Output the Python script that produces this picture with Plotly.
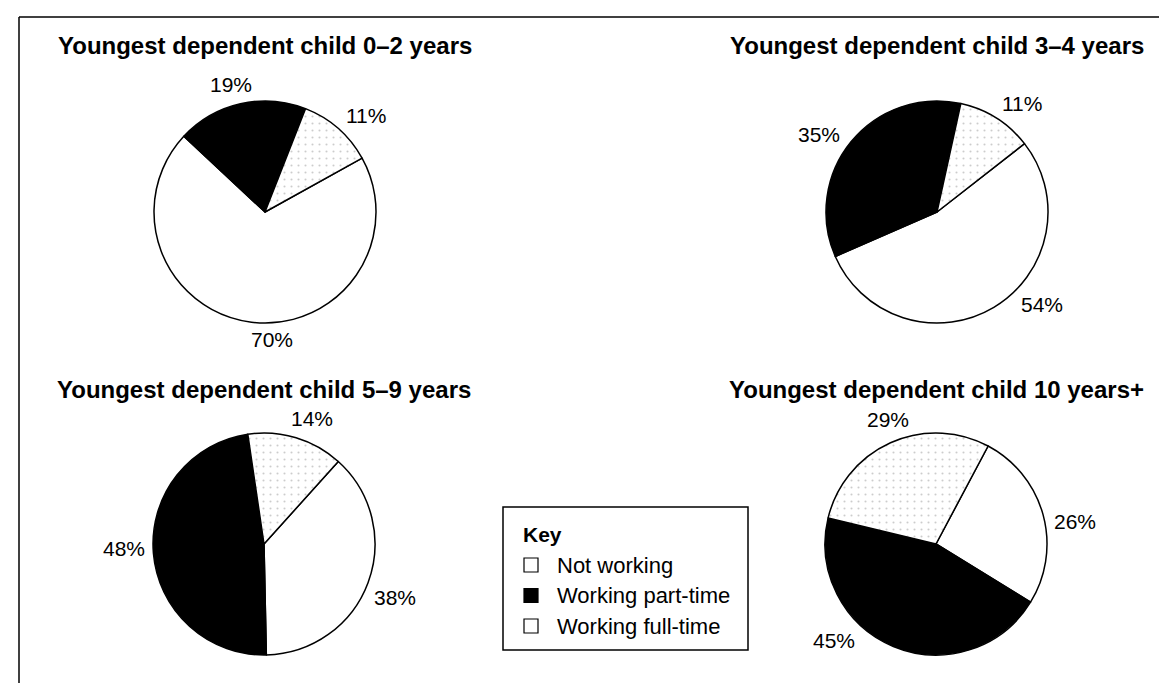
import math
import plotly.graph_objects as go

W, H = 1167, 683

# data
statuses = ["Not working", "Working part-time", "Working full-time"]
titles = [
    "Youngest dependent child 0–2 years",
    "Youngest dependent child 3–4 years",
    "Youngest dependent child 5–9 years",
    "Youngest dependent child 10 years+",
]
child_0_2 = [70, 19, 11]
child_3_4 = [54, 35, 11]
child_5_9 = [38, 48, 14]
child_10_plus = [26, 45, 29]
key_title = "Key"

# layout (px): pie centres, radius, start angle of the "Not working" slice,
# and small angular nudges for the hand-placed percentage labels
centres = [(257, 204), (929, 204), (256, 536), (928, 536)]
rotations = [61, 52, 42, 28]
label_nudge = [[-10, -2, 5], [-18, -6, 6], [2, 3, 4], [6, 24, 3]]
R = 111
FONT = "Liberation Sans, Arial, sans-serif"
LABEL_SIZE = 21

fill = ["white", "black", "white"]
pattern = dict(shape=["", "", "."], fgcolor="#9a9a9a", fillmode="overlay",
               size=7, solidity=0.07)


def px(x, y):
    return x / W, 1 - y / H


fig = go.Figure()
series = [child_0_2, child_3_4, child_5_9, child_10_plus]
for vals, (cx, cy), rot, nudges, title in zip(series, centres, rotations, label_nudge, titles):
    fig.add_trace(go.Pie(
        labels=statuses,
        values=vals,
        sort=False,
        direction="clockwise",
        rotation=rot,
        marker=dict(colors=fill, line=dict(color="black", width=1.5), pattern=pattern),
        textinfo="none",
        domain=dict(x=[(cx - R) / W, (cx + R) / W], y=[1 - (cy + R) / H, 1 - (cy - R) / H]),
        showlegend=False,
    ))

    # percentage labels just outside each slice
    total = sum(vals)
    cum = 0
    for v, nd in zip(vals, nudges):
        ang = math.radians(rot + (cum + v / 2) / total * 360 + nd)
        cum += v
        s, c = math.sin(ang), -math.cos(ang)
        d = R + 8 + abs(s) * LABEL_SIZE + abs(c) * LABEL_SIZE * 0.38
        lx, ly = px(cx + d * s, cy + d * c)
        fig.add_annotation(text="%d%%" % v, x=lx, y=ly, xref="paper", yref="paper",
                           xanchor="center", yanchor="middle", showarrow=False,
                           font=dict(family=FONT, size=LABEL_SIZE, color="black"))

    # chart title centred above each pie
    tx, ty = px(cx, 38 if cy < 300 else 381)
    fig.add_annotation(text="<b>%s</b>" % title, x=tx, y=ty,
                       xref="paper", yref="paper", xanchor="center", yanchor="middle",
                       showarrow=False, font=dict(family=FONT, size=24, color="black"))

# key box
kx0, ky0, kx1, ky1 = 495, 499, 740, 642
shapes = [
    dict(type="rect", xref="paper", yref="paper", x0=kx0 / W, x1=kx1 / W,
         y0=1 - ky1 / H, y1=1 - ky0 / H, line=dict(color="black", width=1.5)),
    # outer frame (only the left and top edges fall inside the picture)
    dict(type="line", xref="paper", yref="paper", x0=11 / W, x1=11 / W, y0=0, y1=1 - 9 / H,
         line=dict(color="black", width=1.5)),
    dict(type="line", xref="paper", yref="paper", x0=11 / W, x1=1, y0=1 - 9 / H, y1=1 - 9 / H,
         line=dict(color="black", width=1.5)),
]
kx, ky = px(513, 526)
fig.add_annotation(text="<b>%s</b>" % key_title, x=kx, y=ky, xref="paper", yref="paper",
                   xanchor="left", yanchor="middle", showarrow=False,
                   font=dict(family=FONT, size=21, color="black"))
for i, (name, col) in enumerate(zip(statuses, fill)):
    yc = 557 + i * 30.5
    shapes.append(dict(type="rect", xref="paper", yref="paper", x0=516 / W, x1=530 / W,
                       y0=1 - (yc + 7) / H, y1=1 - (yc - 7) / H, fillcolor=col,
                       line=dict(color="black", width=1.2)))
    nx, ny = px(547, yc)
    fig.add_annotation(text=name, x=nx, y=ny, xref="paper", yref="paper",
                       xanchor="left", yanchor="middle", showarrow=False,
                       font=dict(family=FONT, size=22, color="black"))

fig.update_layout(
    width=W, height=H,
    margin=dict(l=0, r=0, t=0, b=0),
    paper_bgcolor="white", plot_bgcolor="white",
    shapes=shapes,
    font=dict(family=FONT, color="black"),
)

fig.write_html("out.html")
